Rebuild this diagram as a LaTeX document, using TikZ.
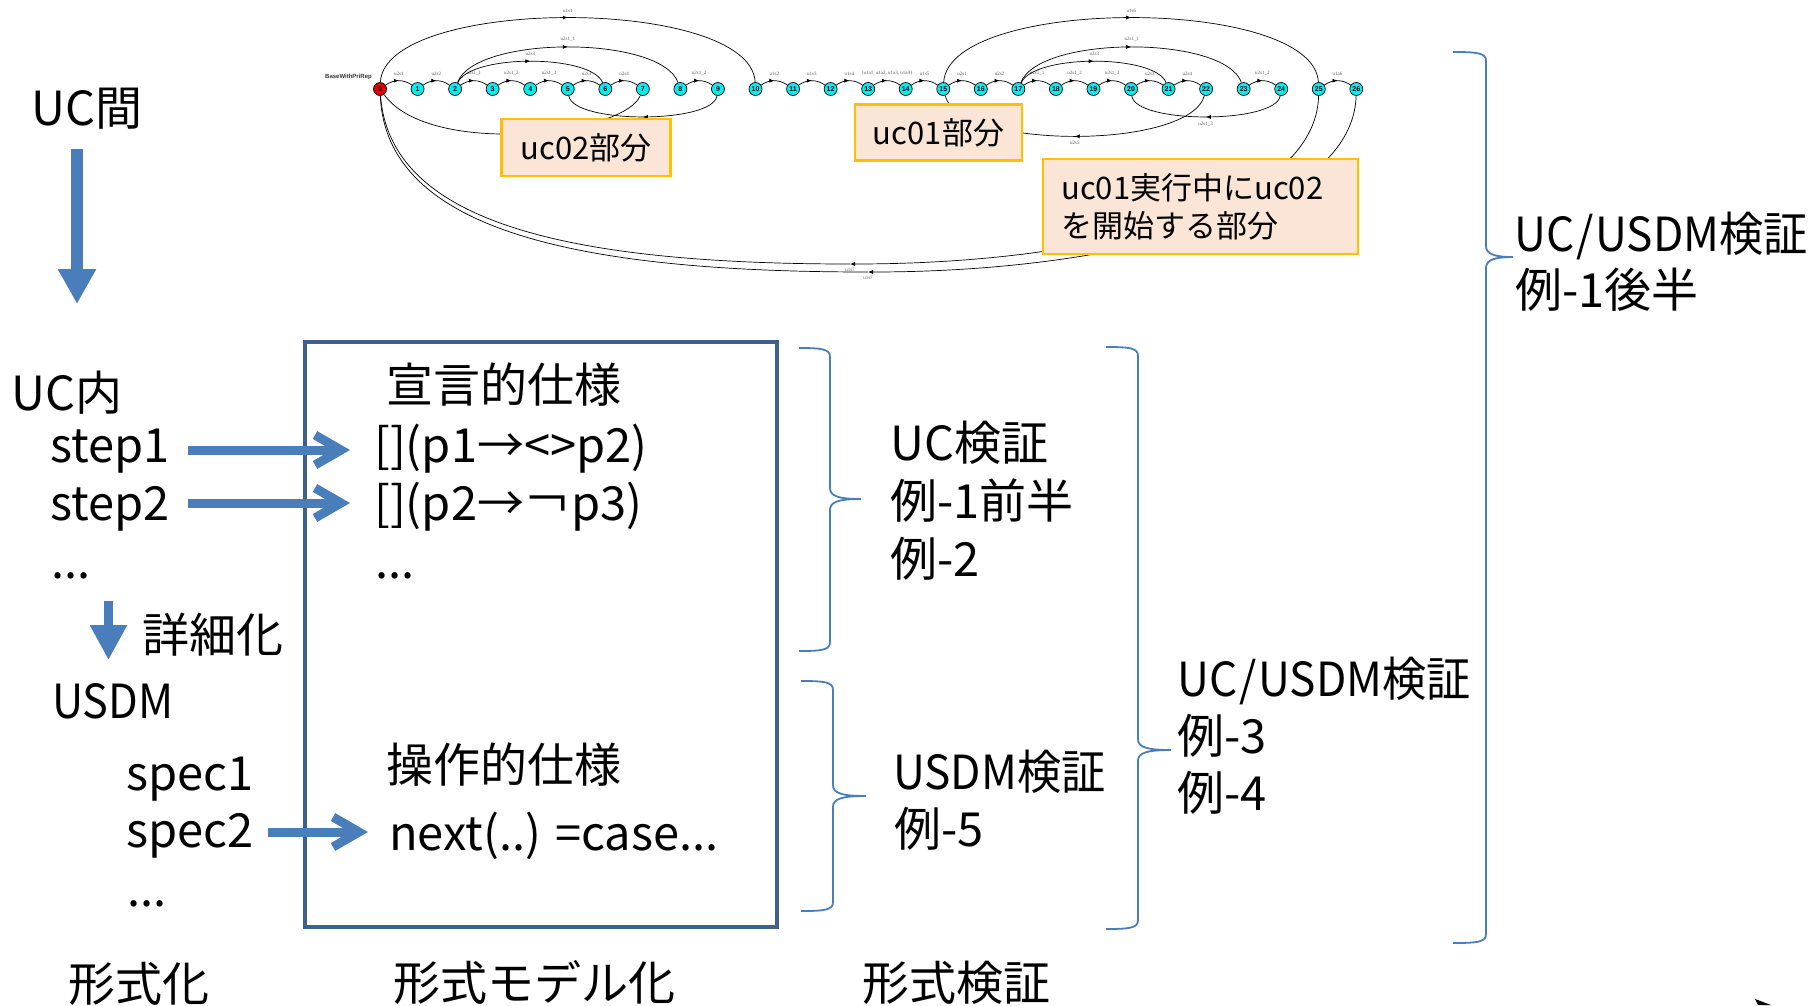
\documentclass[tikz,border=0pt]{standalone}
\usepackage{fontspec}
\setmainfont{Noto Sans CJK JP}
\newfontfamily\labfont{Liberation Serif}
\newfontfamily\numfont{Liberation Sans}
\usetikzlibrary{arrows.meta,decorations.markings}
\definecolor{arrowblue}{RGB}{74,126,187}
\definecolor{boxblue}{RGB}{62,96,140}
\definecolor{peach}{RGB}{251,229,214}
\definecolor{gold}{RGB}{255,192,0}
\definecolor{nodecyan}{RGB}{0,240,240}
\definecolor{nodered}{RGB}{230,0,0}
\newcommand{\myrbrace}[6]{%
\draw[bracestyle] (#1,#4) .. controls ({#2-8},#4) and (#2,{#4+1}) .. (#2,{#4+9})
 -- (#2,{#5-11}) .. controls (#2,{#5-3}) and ({#2+8},#5) .. (#3,#5)
 .. controls ({#2+8},#5) and (#2,{#5+3}) .. (#2,{#5+11})
 -- (#2,{#6-9}) .. controls (#2,{#6-1}) and ({#2-8},#6) .. (#1,#6);}
\newcommand{\narrow}[2]{\scalebox{#1}[1]{#2}}
\tikzset{
 txt/.style={inner sep=0pt, anchor=base west, font=\fontsize{47}{57}\selectfont},
 gnode/.style={circle, draw=black, line width=0.7pt, fill=nodecyan, minimum size=13pt, inner sep=0pt, font=\numfont\bfseries\fontsize{7}{7}\selectfont},
 gedge/.style={draw=black, line width=0.7pt},
 midarr/.style={postaction={decorate}, decoration={markings, mark=at position 0.5 with {\arrow{Latex[length=5pt,width=4pt]}}}},
 endarr/.style={-{Latex[length=5pt,width=4pt]}},
 elab/.style={font=\labfont\fontsize{5}{5}\selectfont, text=black!65, inner sep=0.5pt},
 peachbox/.style={draw=gold, fill=peach, line width=2.2pt, inner sep=0pt},
 fatarrow/.style={draw=arrowblue, fill=arrowblue},
 barbarrow/.style={draw=arrowblue, line width=9pt, -{Straight Barb[length=26pt,width=30pt]}},
 bracestyle/.style={draw=arrowblue, line width=1.8pt},
}
\begin{document}
\begin{tikzpicture}[x=1pt,y=-1pt]
\useasboundingbox (0,0) rectangle (1815,1005);
% ---------- graph ----------
\node[gnode, fill=nodered] (n0) at (380,89) {0};
\foreach \i in {1,...,26} \node[gnode] (n\i) at ({380+37.55*\i},89) {\i};
\node[font=\numfont\bfseries\fontsize{6}{6}\selectfont, text=black!80, anchor=east, inner sep=0pt] (bwpr) at (372,77) {BaseWithPriRep};
\foreach \a/\b/\l in {0/1/u2s1, 1/2/u2s2, 2/3/u2s1\_1, 3/4/u2s1\_2, 4/5/u2s1\_3, 5/6/u2s3, 6/7/u2s4, 8/9/u2s1\_2,
  10/11/u1s2, 11/12/u1s3, 12/13/u1s4, 14/15/u1s5, 15/16/u2s1, 16/17/u2s2, 17/18/u2s1\_1, 18/19/u2s1\_2,
  19/20/u2s1\_3, 20/21/u2s3, 21/22/u2s4, 23/24/u2s1\_2, 25/26/u1a6}
  \draw[gedge, midarr] (n\a) to[bend left=35] node[elab, above=4.5pt] {\l} (n\b);
\draw[gedge, midarr] (n13) to[bend left=35] node[elab, above=4.5pt] {\{u1a1, u1a2, u1a3, u1a4\}} (n14);
% arcs above
\draw[gedge, midarr] (n0) .. controls (385,-4) and (751,-4) .. (n10) node[elab, above=4.5pt, pos=0.5] {u1s1};
\draw[gedge, midarr] (n2) .. controls (475,35) and (661,35) .. (n8) node[elab, above=4.5pt, pos=0.5] {u2s1\_1};
\draw[gedge, midarr] (n2) .. controls (470,54) and (591,54) .. (n6) node[elab, above=4.5pt, pos=0.5] {u2s3};
\draw[gedge, midarr] (n15) .. controls (949,-4) and (1314,-4) .. (n25) node[elab, above=4.5pt, pos=0.5] {u1s6};
\draw[gedge, midarr] (n17) .. controls (1039,35) and (1225,35) .. (n23) node[elab, above=4.5pt, pos=0.5] {u2s1\_1};
\draw[gedge, midarr] (n17) .. controls (1034,54) and (1155,54) .. (n21) node[elab, above=4.5pt, pos=0.5] {u2s3};
% arcs below
\draw[gedge, midarr] (n9) .. controls (713,124) and (573,124) .. (n5);
\draw[gedge, midarr] (n24) .. controls (1276,124) and (1135,124) .. (n20) node[elab, below=4pt, pos=0.5] {u2s1\_3};
\draw[gedge, midarr] (n22) .. controls (1190,150) and (960,150) .. (n15) node[elab, below=4pt, pos=0.5] {u2s5};
\draw[gedge, midarr] (n7) .. controls (625,135) and (430,158) .. (n0);
% long return arcs
\coordinate (a1) at (850,264);
\coordinate (a2) at (868,272);
\draw[gedge, endarr] (n25) .. controls (1316,206) and (1100,264) .. (a1);
\draw[gedge] (a1) .. controls (560,264) and (390,220) .. (n0);
\draw[gedge, endarr] (n26) .. controls (1353,210) and (1120,272) .. (a2);
\draw[gedge] (a2) .. controls (570,272) and (386,228) .. (n0);
\node[elab, below=3.5pt] (l1) at (a1) {u1s7};
\node[elab, below=3.5pt] (l2) at (a2) {u1s7};
% peach boxes
\node[peachbox, minimum width=169pt, minimum height=57pt, font=\fontsize{31}{38}\selectfont] (b02) at (586,147.5) {uc02部分};
\node[peachbox, minimum width=167pt, minimum height=56pt, font=\fontsize{31}{38}\selectfont] (b01) at (938.5,132.5) {uc01部分};
\node[peachbox, minimum width=315pt, minimum height=95pt] (b12) at (1200.5,206.5) {};
\node[inner sep=0pt, anchor=west, align=left, font=\fontsize{31}{38}\selectfont] (b12t) at (1061,206.5) {uc01実行中にuc02\\を開始する部分};
% ---------- main box ----------
\node[draw=boxblue, line width=4.5pt, minimum width=472pt, minimum height=585pt, inner sep=0pt] (box) at (541,634.5) {};
% ---------- texts ----------
\node[txt] (ucma) at (31,125) {UC間};
\node[txt] (ucnai) at (11,410) {UC内};
\node[txt] (s1) at (50,462) {step1};
\node[txt] (s2) at (50,520) {step2};
\node[txt] (d1) at (51,578) {...};
\node[txt] (shousai) at (142,652) {詳細化};
\node[txt] (usdm) at (52,718) {\narrow{0.92}{USDM}};
\node[txt] (sp1) at (126,790) {spec1};
\node[txt] (sp2) at (126,847) {spec2};
\node[txt] (d2) at (127,906) {...};
\node[txt] (keishiki) at (68,1001) {形式化};
\node[txt] (sengen) at (386,402) {宣言的仕様};
\node[txt] (f1) at (374,462) {[](p1→<>p2)};
\node[txt] (f2) at (374,520) {[](p2→￢p3)};
\node[txt] (d3) at (375,578) {...};
\node[txt] (sousa) at (386,782) {操作的仕様};
\node[txt] (nx) at (389,850) {next(..) =case...};
\node[txt] (model) at (393,1000) {形式モデル化};
\node[txt] (kensho) at (862,1000) {形式検証};
\node[txt] (r1a) at (890,460) {UC検証};
\node[txt] (r1b) at (890,518) {例-1前半};
\node[txt] (r1c) at (890,576) {例-2};
\node[txt] (r2a) at (893,789) {\narrow{0.94}{USDM検証}};
\node[txt] (r2b) at (894,846) {例-5};
\node[txt] (r3a) at (1177,696) {\narrow{0.94}{UC\kern2pt/\kern2pt USDM検証}};
\node[txt] (r3b) at (1177,753) {例-3};
\node[txt] (r3c) at (1177,810) {例-4};
\node[txt] (r4a) at (1514,251) {\narrow{0.94}{UC\kern2pt/\kern2pt USDM検証}};
\node[txt] (r4b) at (1515,307) {例-1後半};
% ---------- blue arrows ----------
\coordinate (ua1) at (77,149);
\coordinate (ua2) at (77,304);
\draw[fatarrow, line width=11.7pt, -{Triangle[length=35pt,width=36pt]}] (ua1) -- (ua2);
\coordinate (da1) at (108.5,601);
\coordinate (da2) at (108.5,660);
\draw[fatarrow, line width=9.5pt, -{Triangle[length=35pt,width=35pt]}] (da1) -- (da2);
\coordinate (sa1) at (188,450);
\coordinate (sa2) at (350,450);
\coordinate (sb1) at (188,503);
\coordinate (sb2) at (350,503);
\coordinate (sc1) at (268,832);
\coordinate (sc2) at (368,832);
\draw[barbarrow] (sa1) -- (sa2);
\draw[barbarrow] (sb1) -- (sb2);
\draw[barbarrow] (sc1) -- (sc2);
% ---------- braces ----------
\myrbrace{799}{830}{861}{348}{499}{651}
\myrbrace{801}{833}{866}{681}{796}{911}
\myrbrace{1106}{1138}{1171}{347}{750}{929}
\myrbrace{1453}{1486}{1513}{52}{257}{943}
% cursor fragment
\fill (1755,999) -- (1771,1005) -- (1758,1005) -- cycle;
\end{tikzpicture}
\end{document}
